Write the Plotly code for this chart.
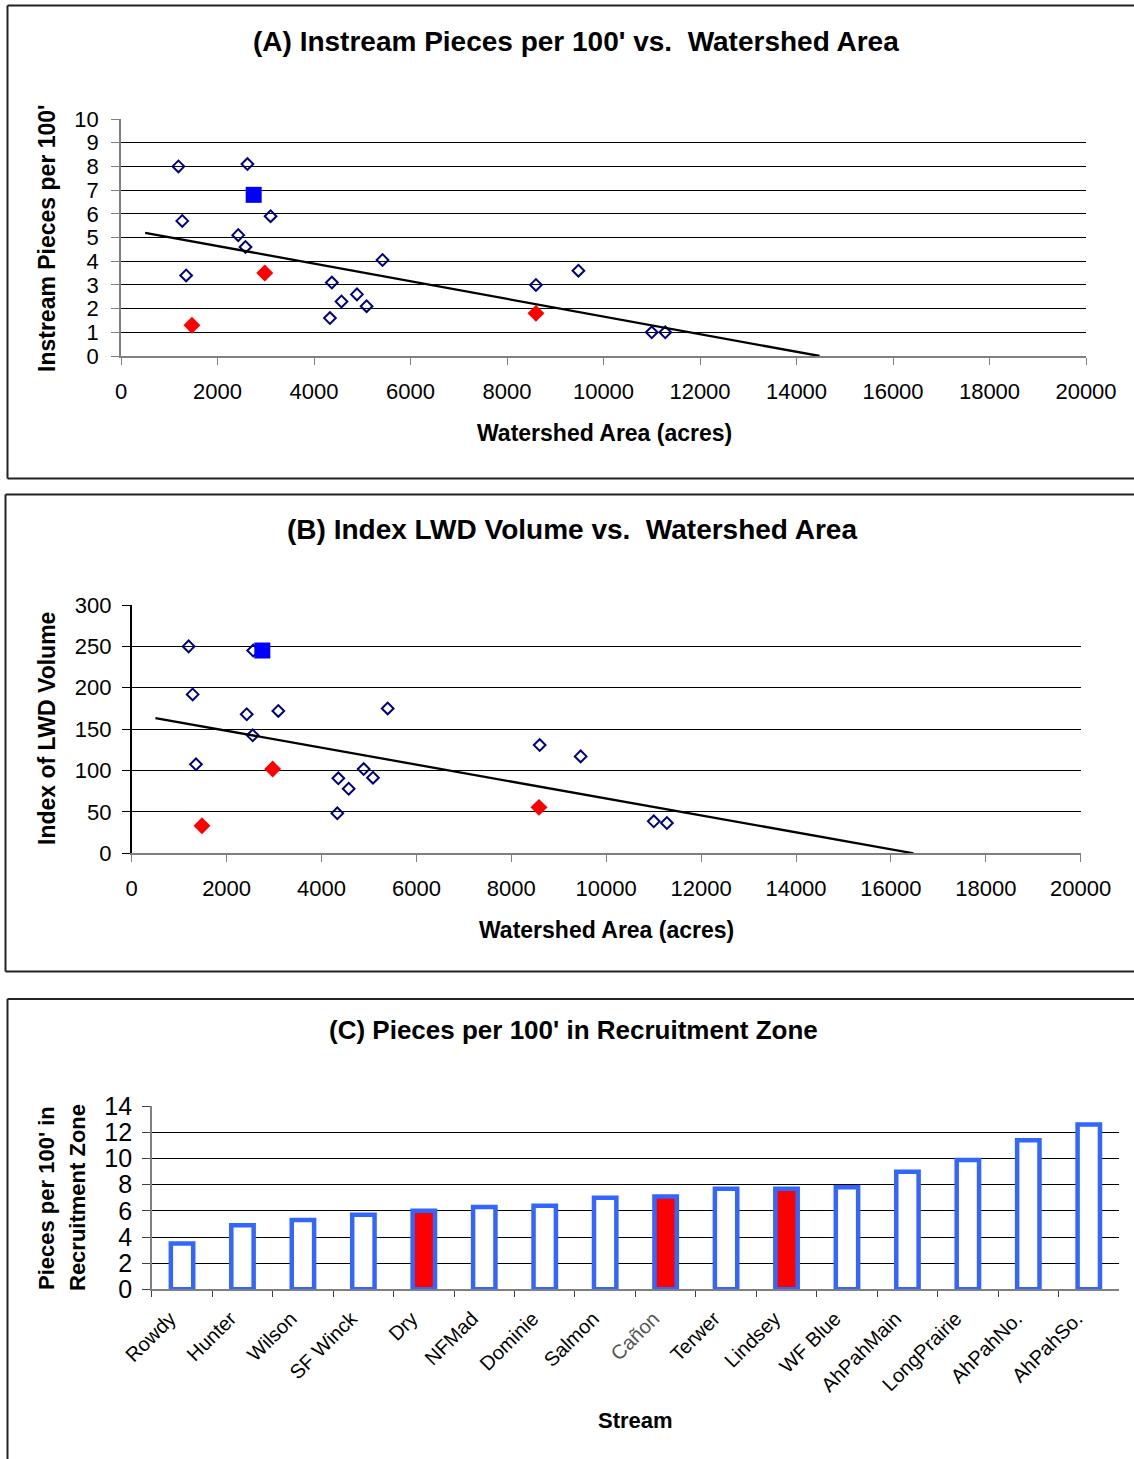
import plotly.graph_objects as go

W, H = 1134, 1459
FONT = "Liberation Sans, Arial, sans-serif"

# ---------------- Panel A: instream pieces per 100' ----------------
a_open_area = [1190, 2620, 1270, 3100, 2430, 2580, 5420, 1350, 4370, 4890,
               4570, 5090, 4330, 8600, 9480, 11000, 11280]
a_open_pieces = [8.0, 8.1, 5.7, 5.9, 5.1, 4.6, 4.05, 3.4, 3.1, 2.6,
                 2.3, 2.1, 1.6, 3.0, 3.6, 1.0, 1.0]
a_red_area = [1470, 2980, 8600]
a_red_pieces = [1.3, 3.5, 1.8]
a_sq_area = [2750]
a_sq_pieces = [6.8]
a_trend_intercept = 5.386
a_trend_slope = -0.000372
a_trend_start = 500

# ---------------- Panel B: index of LWD volume ----------------
b_open_area = [1200, 2560, 1285, 3090, 2424, 5395, 2550, 1355, 4354, 4889,
               5085, 4573, 4333, 8598, 9462, 11003, 11279]
b_open_volume = [250, 245, 192, 172, 168, 175, 142.5, 107.5, 90.6, 101.8,
                 91.3, 78, 48.3, 130.8, 117.1, 38.6, 36.6]
b_red_area = [1481, 2971, 8583]
b_red_volume = [33.3, 101.8, 55.5]
b_sq_area = [2753]
b_sq_volume = [245]
b_trend_intercept = 168.5
b_trend_slope = -0.010227
b_trend_start = 500

# ---------------- Panel C: pieces in recruitment zone ----------------
streams = ["Rowdy", "Hunter", "Wilson", "SF Winck", "Dry", "NFMad", "Dominie",
           "Salmon", "Cañon", "Terwer", "Lindsey", "WF Blue", "AhPahMain",
           "LongPrairie", "AhPahNo.", "AhPahSo."]
recruit_pieces = [3.5, 4.9, 5.3, 5.7, 6.0, 6.3, 6.4, 7.0, 7.1, 7.7, 7.7, 7.8,
                  9.0, 9.9, 11.4, 12.6]
highlighted = ["Dry", "Cañon", "Lindsey"]

NAVY = "#000080"
RED = "#FF0000"
BLUE = "#0000FF"
BAR_BLUE = "#3366FF"
GRAY = "#808080"


def fx(p):
    return p / W


def fy(p):
    return 1 - p / H


def trend(intercept, slope, start):
    end = -intercept / slope
    return [start, end], [intercept + slope * start, 0]


fig = go.Figure()


def scatter_panel(xa, ya, open_x, open_y, red_x, red_y, sq_x, sq_y, tr):
    fig.add_trace(go.Scatter(
        x=open_x, y=open_y, mode="markers", xaxis=xa, yaxis=ya,
        marker=dict(symbol="diamond-open", size=9, color=NAVY,
                    line=dict(color=NAVY, width=2)),
        showlegend=False, cliponaxis=False))
    fig.add_trace(go.Scatter(
        x=red_x, y=red_y, mode="markers", xaxis=xa, yaxis=ya,
        marker=dict(symbol="diamond", size=13, color=RED, line=dict(width=0)),
        showlegend=False, cliponaxis=False))
    fig.add_trace(go.Scatter(
        x=sq_x, y=sq_y, mode="markers", xaxis=xa, yaxis=ya,
        marker=dict(symbol="square", size=16, color=BLUE, line=dict(width=0)),
        showlegend=False, cliponaxis=False))
    tx, ty = tr
    fig.add_trace(go.Scatter(
        x=tx, y=ty, mode="lines", xaxis=xa, yaxis=ya,
        line=dict(color="black", width=2.3), showlegend=False))


scatter_panel("x", "y", a_open_area, a_open_pieces, a_red_area, a_red_pieces,
              a_sq_area, a_sq_pieces,
              trend(a_trend_intercept, a_trend_slope, a_trend_start))
scatter_panel("x2", "y2", b_open_area, b_open_volume, b_red_area, b_red_volume,
              b_sq_area, b_sq_volume,
              trend(b_trend_intercept, b_trend_slope, b_trend_start))

fills = [RED if s in highlighted else "white" for s in streams]
fig.add_trace(go.Bar(
    x=streams, y=recruit_pieces, xaxis="x3", yaxis="y3",
    marker=dict(color=fills, line=dict(color=BAR_BLUE, width=4.5)),
    showlegend=False))

tick_font = dict(family=FONT, size=22, color="black")

common_x = dict(range=[0, 20000], dtick=2000, tickformat="d", showgrid=False,
                zeroline=False, showline=True, linecolor=GRAY, linewidth=1.5,
                ticks="outside", ticklen=7, tickcolor=GRAY, tickfont=tick_font,
                ticklabelstandoff=8, fixedrange=True)

fig.update_layout(
    width=W, height=H, margin=dict(l=0, r=0, t=0, b=0, autoexpand=False),
    paper_bgcolor="white", plot_bgcolor="white",
    font=dict(family=FONT, color="black"),
    bargap=0.63,
    xaxis=dict(domain=[fx(121), fx(1086)], anchor="y", **common_x),
    yaxis=dict(domain=[fy(356), fy(119)], anchor="x", range=[0, 10], dtick=1,
               showgrid=True, gridcolor="black", gridwidth=1, zeroline=False,
               showline=True, linecolor=GRAY, linewidth=1.5, ticks="outside",
               ticklen=8, tickcolor=GRAY, tickfont=tick_font,
               ticklabelstandoff=8),
    xaxis2=dict(domain=[fx(131.7), fx(1080.7)], anchor="y2", **common_x),
    yaxis2=dict(domain=[fy(853.3), fy(605)], anchor="x2", range=[0, 300],
                dtick=50, showgrid=True, gridcolor="black", gridwidth=1,
                zeroline=False, showline=True, linecolor="black", linewidth=1.5,
                ticks="outside", ticklen=8, tickcolor="black",
                tickfont=tick_font, ticklabelstandoff=6),
    xaxis3=dict(domain=[fx(151.8), fx(1119)], anchor="y3", type="category",
                showgrid=False, zeroline=False, showline=True, linecolor=GRAY,
                linewidth=1.5, ticks="outside", tickson="boundaries",
                ticklen=6, tickcolor="#404040", tickangle=-45,
                tickvals=streams,
                ticktext=[("<span style='color:#555555'>%s</span>" % s)
                          if s == "Cañon" else s for s in streams],
                tickfont=dict(family=FONT, size=20, color="black"),
                ticklabelstandoff=8, ticklabelshift=-12),
    yaxis3=dict(domain=[fy(1289.3), fy(1106.3)], anchor="x3", range=[0, 14],
                dtick=2, showgrid=True, gridcolor="black", gridwidth=1,
                zeroline=False, showline=True, linecolor=GRAY, linewidth=1.5,
                ticks="outside", ticklen=8, tickcolor="#404040",
                tickfont=dict(family=FONT, size=25, color="black"),
                ticklabelstandoff=5),
)


# Panel frames: left, top and (where visible) bottom edges, kept inside the page
def hline(x0, x1, y):
    fig.add_shape(type="line", xref="paper", yref="paper", x0=fx(x0),
                  x1=fx(x1), y0=fy(y), y1=fy(y),
                  line=dict(color="#222222", width=2), layer="below")


def vline(x, y0, y1):
    fig.add_shape(type="line", xref="paper", yref="paper", x0=fx(x),
                  x1=fx(x), y0=fy(y0), y1=fy(y1),
                  line=dict(color="#222222", width=2), layer="below")


for x0, top, bottom in [(7.5, 5.5, 478.5), (5.5, 494.5, 971.5)]:
    vline(x0, top, bottom)
    hline(x0, W, top)
    hline(x0, W, bottom)
vline(7.5, 999, H)
hline(7.5, W, 999)


def label(text, xp, yp, size, angle=0):
    fig.add_annotation(text=text, xref="paper", yref="paper", x=fx(xp),
                       y=fy(yp), showarrow=False, textangle=angle,
                       xanchor="center", yanchor="middle",
                       font=dict(family=FONT, size=size, color="black"))


label("<b>(A) Instream Pieces per 100' vs.&nbsp; Watershed Area</b>", 575.5, 42, 28)
label("<b>Watershed Area (acres)</b>", 604, 433, 23)
label("<b>Instream Pieces per 100'</b>", 47, 238, 23, -90)

label("<b>(B) Index LWD Volume vs.&nbsp; Watershed Area</b>", 571.5, 529, 28)
label("<b>Watershed Area (acres)</b>", 606, 930, 23)
label("<b>Index of LWD Volume</b>", 47, 729, 23, -90)

label("<b>(C) Pieces per 100' in Recruitment Zone</b>", 573.5, 1030, 26)
label("<b>Stream</b>", 635, 1420, 22)
label("<b>Pieces per 100' in</b>", 46, 1198, 22, -90)
label("<b>Recruitment Zone</b>", 77, 1198, 22, -90)

fig.write_html("out.html")
